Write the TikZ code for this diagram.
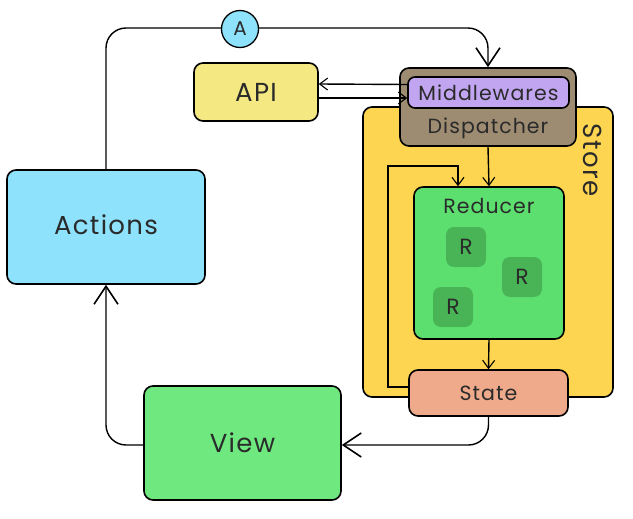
\documentclass[tikz,border=0pt]{standalone}
\usepackage{fontspec}
\setmainfont{Poppins}[LetterSpace=5]
\usetikzlibrary{arrows.meta}
\definecolor{actblue}{HTML}{8EE2FC}
\definecolor{viewgreen}{HTML}{6FE87F}
\definecolor{apiyellow}{HTML}{F3E882}
\definecolor{storeyellow}{HTML}{FED551}
\definecolor{dispbrown}{HTML}{9E8C72}
\definecolor{mwpurple}{HTML}{C2A5F0}
\definecolor{redgreen}{HTML}{5DDF70}
\definecolor{rgreen}{HTML}{48B455}
\definecolor{statesalmon}{HTML}{EFA98B}
\definecolor{inktext}{HTML}{2A2A2A}
\begin{document}
\begin{tikzpicture}[x=1pt,y=-1pt,
  box/.style={draw=black, line width=1.6pt, rounded corners=9pt, inner sep=0pt, text=inktext},
  conn/.style={draw=black, line width=1.4pt},
  bigarrow/.style={conn, -{Straight Barb[length=18pt,width=24pt,line width=1.6pt]}},
  smallarrow/.style={conn, -{Straight Barb[length=8pt,width=12pt,line width=1.1pt]}},
  txt/.style={font=\fontsize{26}{30}\selectfont, text=inktext},
  mtxt/.style={font=\fontsize{20.5}{24}\selectfont, text=inktext},
  rbox/.style={fill=rgreen, rounded corners=8pt, minimum width=40pt, minimum height=40pt, inner sep=0pt, text=inktext, font=\fontsize{22}{24}\selectfont}
]
\useasboundingbox (0,0) rectangle (633,519);

% Store
\node[box, fill=storeyellow, minimum width=250pt, minimum height=290pt] (store) at (488,252) {};
\node[rotate=-90, txt] (storelbl) at (593,160) {Store};

% Dispatcher
\node[box, fill=dispbrown, minimum width=176pt, minimum height=78pt] (disp) at (488,107) {};
\node[box, fill=mwpurple, rounded corners=7pt, minimum width=161pt, minimum height=31pt, mtxt] (mw) at (488.5,92.5) {Middlewares};
\node[mtxt] (displbl) at (488,128) {Dispatcher};

% Reducer
\node[box, fill=redgreen, minimum width=150pt, minimum height=152pt] (reducer) at (489,263) {};
\node[mtxt] (redlbl) at (489,206) {Reducer};
\node[rbox] (r1) at (466,247) {R};
\node[rbox] (r2) at (522,277) {R};
\node[rbox] (r3) at (453,307) {R};

% loop from State to Reducer
\coordinate (loopa) at (388,166);
\draw[smallarrow] (489,387) -| (loopa) -| ([xshift=-31pt]reducer.north);

% State
\node[box, fill=statesalmon, minimum width=159pt, minimum height=46pt, mtxt] (state) at (488.5,393) {State};

% Actions, View, API
\node[box, fill=actblue, minimum width=198pt, minimum height=114pt, txt] (actions) at (106,227) {\raisebox{4pt}{Actions}};
\node[box, fill=viewgreen, minimum width=197pt, minimum height=114pt, txt] (view) at (242.5,443) {View};
\node[box, fill=apiyellow, minimum width=124pt, minimum height=58pt, txt] (api) at (256,92) {API};

% connectors
\draw[bigarrow, rounded corners=20pt] (actions.north) |- (disp.north |- 0,28) -- (disp.north);
\node[draw=black, line width=1.3pt, circle, fill=actblue, minimum size=37pt, inner sep=0pt, text=inktext, font=\fontsize{20}{22}\selectfont] (A) at (240,29) {A};

\draw[smallarrow] ([yshift=8pt]mw.west) -- ([yshift=8pt]api.east);
\draw[smallarrow] ([yshift=-6pt]api.east) -- ([yshift=-5.5pt]mw.west);
\draw[smallarrow] (disp.south) -- (reducer.north);
\draw[smallarrow] (reducer.south) -- (state.north);
\draw[bigarrow, rounded corners=20pt] (state.south) |- ([yshift=-2pt]view.east);
\draw[bigarrow, rounded corners=20pt] ([yshift=-2pt]view.west) -| (actions.south);
\end{tikzpicture}
\end{document}
